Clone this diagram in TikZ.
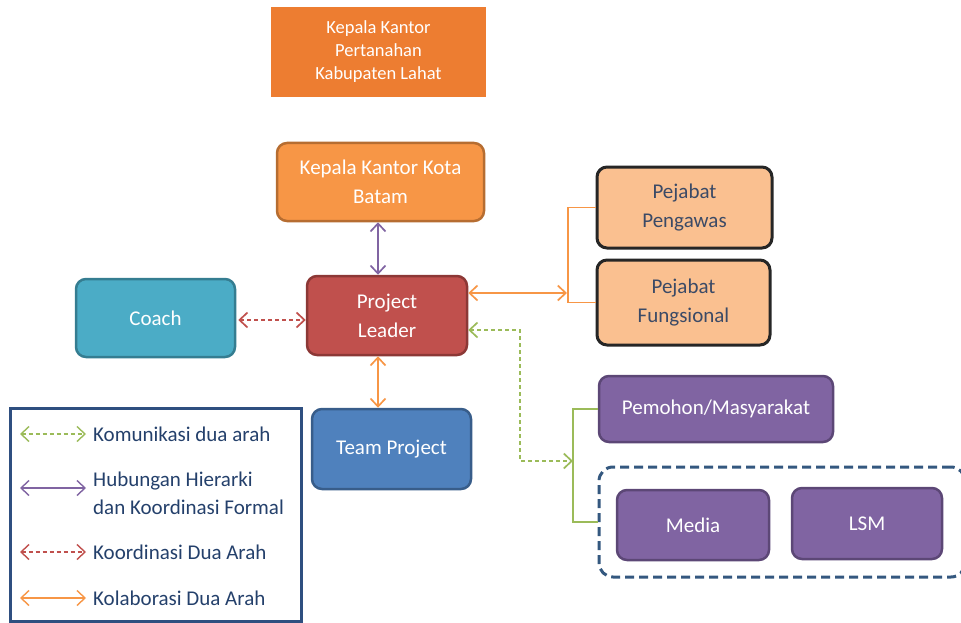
\documentclass[tikz,border=0pt]{standalone}
\usepackage{fontspec}
\setmainfont{Carlito}
\usetikzlibrary{arrows.meta}

\definecolor{topor}{HTML}{ED7D31}
\definecolor{orfill}{HTML}{F79646}
\definecolor{ordraw}{HTML}{B66D31}
\definecolor{redfill}{HTML}{C0504D}
\definecolor{reddraw}{HTML}{8C3836}
\definecolor{cyanfill}{HTML}{4BACC6}
\definecolor{cyandraw}{HTML}{357D91}
\definecolor{bluefill}{HTML}{4F81BD}
\definecolor{bluedraw}{HTML}{385D8A}
\definecolor{peachfill}{HTML}{FAC090}
\definecolor{peachdraw}{HTML}{262626}
\definecolor{peachtext}{HTML}{3B4A66}
\definecolor{purfill}{HTML}{8064A2}
\definecolor{purdraw}{HTML}{5C4776}
\definecolor{grouped}{HTML}{34587F}
\definecolor{legdraw}{HTML}{2F4F80}
\definecolor{legtext}{HTML}{24406B}
\definecolor{lgreen}{HTML}{9BBB59}
\definecolor{lred}{HTML}{C0504D}
\definecolor{lorange}{HTML}{F79646}
\definecolor{lpurple}{HTML}{8064A2}

\tikzset{
  x=1pt, y=-1pt,
  box/.style={rounded corners=10pt, line width=2.5pt, align=center,
    font=\fontsize{21}{29}\selectfont, text=white, inner sep=0pt},
  headbox/.style={fill=topor, align=center, text=white, inner sep=0pt,
    font=\fontsize{18.5}{23}\selectfont, minimum width=215pt, minimum height=90pt},
  orbox/.style={box, fill=orfill, draw=ordraw},
  redbox/.style={box, fill=redfill, draw=reddraw},
  cyanbox/.style={box, fill=cyanfill, draw=cyandraw},
  bluebox/.style={box, fill=bluefill, draw=bluedraw},
  peachbox/.style={box, fill=peachfill, draw=peachdraw, line width=3pt, text=peachtext},
  purbox/.style={box, fill=purfill, draw=purdraw},
  conn/.style={line width=1.7pt, {Straight Barb[length=8pt,width=15pt]}-{Straight Barb[length=8pt,width=15pt]}},
  dashconn/.style={conn, dash pattern=on 4pt off 3pt},
  bracket/.style={line width=1.7pt},
  legtxt/.style={anchor=west, text=legtext, align=left, inner sep=0pt,
    font=\fontsize{21}{28}\selectfont},
}

\begin{document}
\begin{tikzpicture}
\useasboundingbox (0,0) rectangle (961,623);

% main boxes
\node[headbox] (top) at (378.5,52) {Kepala Kantor\\Pertanahan\\Kabupaten Lahat};
\node[orbox, minimum width=207pt, minimum height=78pt] (batam) at (380.5,182) {Kepala Kantor Kota\\Batam};
\node[redbox, minimum width=160pt, minimum height=79pt] (pl) at (387,315.5) {Project\\Leader};
\node[cyanbox, minimum width=159pt, minimum height=78pt] (coach) at (155.5,318) {Coach};
\node[bluebox, minimum width=159pt, minimum height=80pt] (team) at (391.5,449) {Team Project};
\node[peachbox, minimum width=175pt, minimum height=81pt] (peng) at (684.5,207.5) {Pejabat\\Pengawas};
\node[peachbox, minimum width=173pt, minimum height=85pt] (fung) at (683.5,302.5) {Pejabat\\Fungsional};
\node[purbox, minimum width=234pt, minimum height=66pt] (pem) at (716,409) {Pemohon/Masyarakat};

% dashed group of media and LSM
\node[draw=grouped, line width=3pt, dash pattern=on 9pt off 5pt, rounded corners=14pt,
      minimum width=366pt, minimum height=110pt] (grp) at (782,522) {};
\node[purbox, minimum width=152pt, minimum height=70pt] (media) at (693,525) {Media};
\node[purbox, minimum width=150pt, minimum height=71pt] (lsm) at (867,523.5) {LSM};

% helper coordinates
\coordinate (vx) at (378,0);
\coordinate (ob) at (567,293);
\coordinate (obt) at (568,0);
\coordinate (ga) at (520,330);
\coordinate (gb) at (520,461);
\coordinate (gc) at (573,461);

% connectors
\draw[conn, lpurple] (batam.south -| vx) -- (pl.north -| vx);
\draw[conn, lorange] (pl.south -| vx) -- (team.north -| vx);
\draw[dashconn, lred] (coach.east) ++(2,2) coordinate (ce) (ce) -- (ce -| pl.west);
\draw[conn, lorange] (ob -| pl.east) -- (ob);
\draw[bracket, lorange] (peng.west) -- (peng.west -| obt) -- (fung.west -| obt) -- (fung.west);
\draw[dashconn, lgreen] (ga -| pl.east) -- (ga) -- (gb) -- (gc);
\draw[bracket, lgreen] (pem.west) -- (pem.west -| gc) -- (grp.west -| gc) -- (grp.west);

% legend
\node[draw=legdraw, line width=3pt, minimum width=291pt, minimum height=213pt, inner sep=0pt] (leg) at (155.5,514.5) {};
\coordinate (l1a) at (20,434); \coordinate (l1b) at (86,434);
\coordinate (l2a) at (20,488); \coordinate (l2b) at (86,488);
\coordinate (l3a) at (20,552); \coordinate (l3b) at (86,552);
\coordinate (l4a) at (20,598); \coordinate (l4b) at (86,598);
\draw[dashconn, lgreen, line width=1.4pt] (l1a) -- (l1b);
\draw[conn, lpurple, line width=1.4pt] (l2a) -- (l2b);
\draw[dashconn, lred, line width=1.4pt] (l3a) -- (l3b);
\draw[conn, lorange, line width=1.4pt] (l4a) -- (l4b);
\node[legtxt] (t1) at (93,434) {Komunikasi dua arah};
\node[legtxt] (t2) at (93,493) {Hubungan Hierarki\\dan Koordinasi Formal};
\node[legtxt] (t3) at (93,552) {Koordinasi Dua Arah};
\node[legtxt] (t4) at (93,598) {Kolaborasi Dua Arah};
\end{tikzpicture}
\end{document}
